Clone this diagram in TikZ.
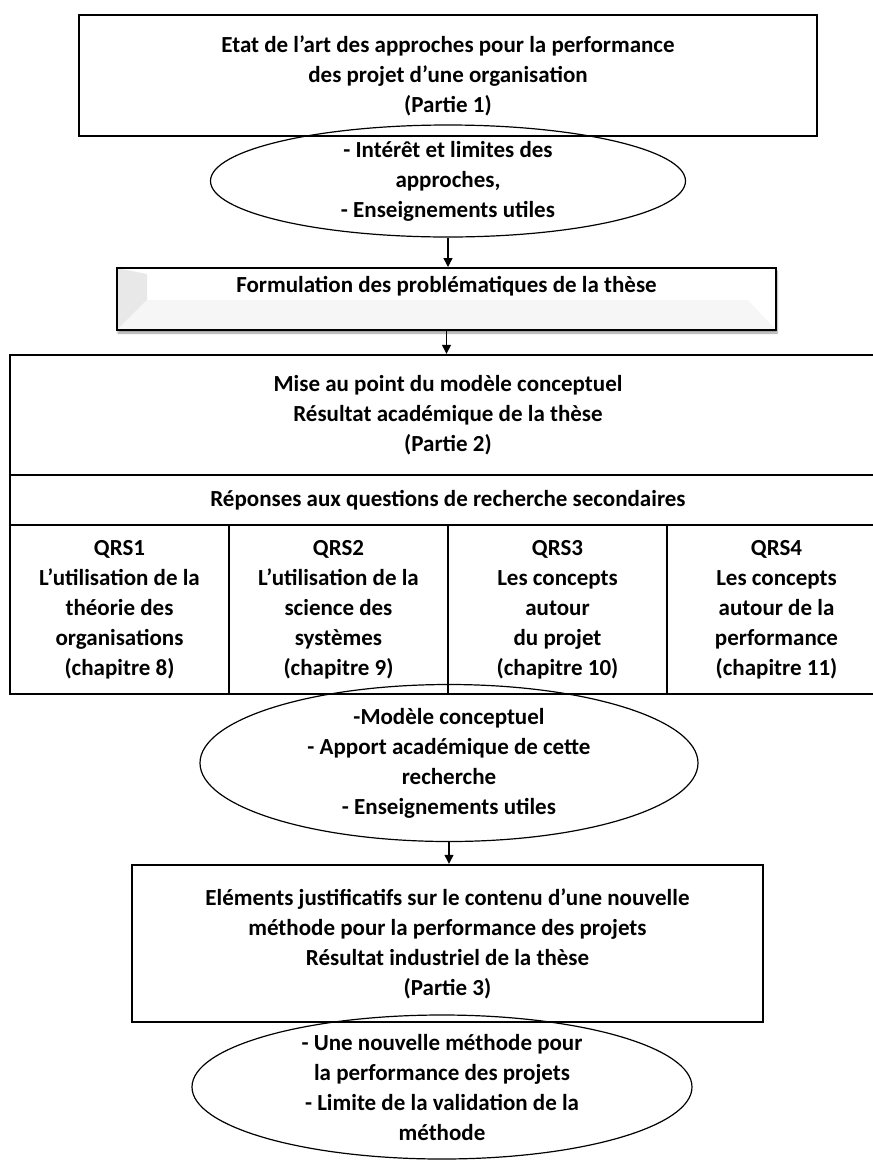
\documentclass[tikz,border=0pt]{standalone}
\usepackage{fontspec}
\setmainfont{Carlito}
\usetikzlibrary{shapes.geometric,arrows.meta,shadows.blur}

\tikzset{
	txt/.style={font=\bfseries\fontsize{23}{30}\selectfont, align=center},
	box/.style={txt, draw, line width=2.4pt, inner sep=0pt},
	oval/.style={txt, ellipse, draw, line width=1.2pt, inner sep=-14pt},
	flow/.style={line width=1.3pt, -{Triangle[length=9pt,width=9pt]}},
	bevelbox/.style={box, line width=2pt, fill=white,
		blur shadow={shadow xshift=1pt, shadow yshift=-3pt, shadow blur steps=6},
		path picture={
			\coordinate (pnw) at (path picture bounding box.north west);
			\coordinate (psw) at (path picture bounding box.south west);
			\coordinate (pse) at (path picture bounding box.south east);
			\fill[gray!18] (pnw) -- ([shift={(30pt,-6pt)}]pnw)
				-- ([shift={(30pt,30pt)}]psw) -- (psw) -- cycle;
			\fill[gray!7] (psw) -- ([shift={(30pt,30pt)}]psw)
				-- ([shift={(-28pt,30pt)}]pse) -- (pse) -- cycle;
		}}
}

\begin{document}
\begin{tikzpicture}[x=1pt,y=-1pt]
		\useasboundingbox (0,0) rectangle (873,1163);
		% Partie 1
		\node[box,
		minimum width=738,
		minimum height=121] (etat) at (448,75.5)
		{Etat de l’art  des approches pour la performance\\des projet d’une organisation\\(Partie 1)};
		\node[oval,
		minimum width=475,
		minimum height=112] (oval1) at (448,181)
		{- Intérêt et limites des\\approches,\\- Enseignements utiles};
		% problematiques
		\node[bevelbox,
		minimum width=659,
		minimum height=62,
		text depth=30pt] (formul) at (446.5,299)
		{Formulation des problématiques de la thèse};
		% Partie 2
		\node[box,
		minimum width=876,
		minimum height=120] (mise) at (448,415)
		{Mise au point du modèle conceptuel\\Résultat académique de la thèse\\(Partie 2)};
		\node[box,
		minimum width=876,
		minimum height=50] (reponses) at (448,500)
		{Réponses aux  questions de recherche secondaires};
		\node[box, minimum width=219, minimum height=169] (qrs1) at (119.5,609.5)
		{QRS1\\L’utilisation de la\\théorie des\\organisations\\(chapitre 8)};
		\node[box, minimum width=219, minimum height=169] (qrs2) at (338.5,609.5)
		{QRS2\\L’utilisation de la\\science des\\systèmes\\(chapitre 9)};
		\node[box, minimum width=219, minimum height=169] (qrs3) at (557.5,609.5)
		{QRS3\\Les concepts\\autour\\du projet\\(chapitre 10)};
		\node[box, minimum width=219, minimum height=169] (qrs4) at (776.5,609.5)
		{QRS4\\Les concepts\\autour de la\\performance\\(chapitre 11)};
		\node[oval,
		minimum width=498,
		minimum height=157] (oval2) at (449,763)
		{-Modèle conceptuel\\-  Apport académique de cette\\recherche\\- Enseignements utiles};
		% Partie 3
		\node[box,
		minimum width=631,
		minimum height=157] (justif) at (447.5,943.5)
		{Eléments justificatifs sur le contenu d’une nouvelle\\méthode pour la performance des projets\\Résultat industriel de la thèse\\(Partie 3)};
		\node[oval,
		minimum width=500,
		minimum height=144] (oval3) at (442,1087)
		{- Une nouvelle méthode  pour\\la performance des projets\\- Limite de la validation de la\\méthode};

		% arrows
		\draw[flow] (oval1.south) -- (oval1.south |- formul.north);
		\draw[flow] (formul.south) -- (formul.south |- mise.north);
		\draw[flow] (oval2.south) -- (oval2.south |- justif.north);
\end{tikzpicture}
\end{document}
